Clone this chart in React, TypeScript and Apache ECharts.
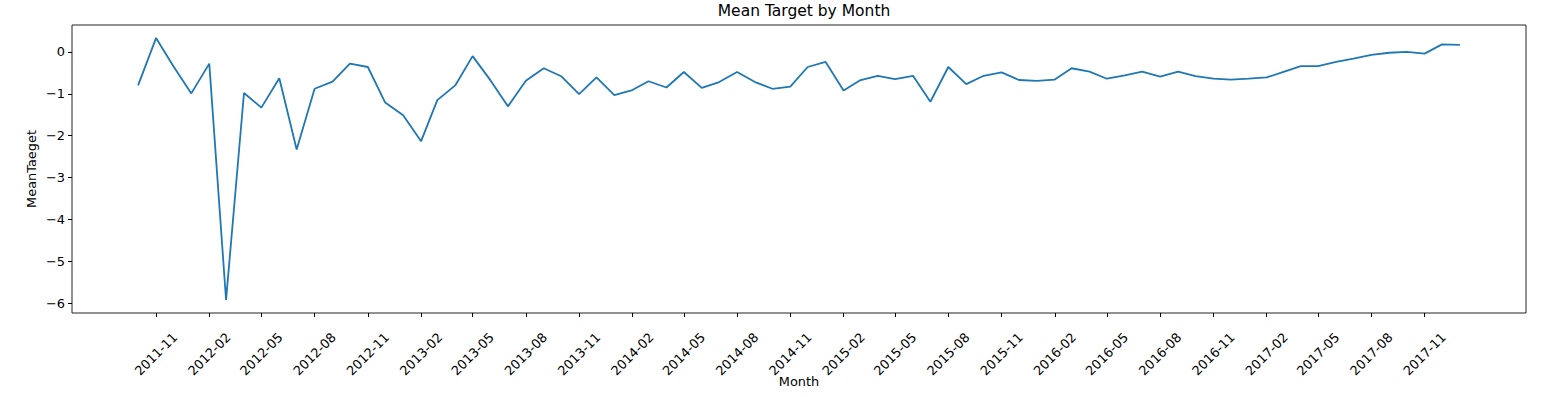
import React, { useEffect, useRef } from "react";
import * as echarts from "echarts";

const months: string[] = [
  "2011-10", "2011-11", "2011-12",
  "2012-01", "2012-02", "2012-03", "2012-04", "2012-05", "2012-06", "2012-07", "2012-08", "2012-09", "2012-10", "2012-11", "2012-12",
  "2013-01", "2013-02", "2013-03", "2013-04", "2013-05", "2013-06", "2013-07", "2013-08", "2013-09", "2013-10", "2013-11", "2013-12",
  "2014-01", "2014-02", "2014-03", "2014-04", "2014-05", "2014-06", "2014-07", "2014-08", "2014-09", "2014-10", "2014-11", "2014-12",
  "2015-01", "2015-02", "2015-03", "2015-04", "2015-05", "2015-06", "2015-07", "2015-08", "2015-09", "2015-10", "2015-11", "2015-12",
  "2016-01", "2016-02", "2016-03", "2016-04", "2016-05", "2016-06", "2016-07", "2016-08", "2016-09", "2016-10", "2016-11", "2016-12",
  "2017-01", "2017-02", "2017-03", "2017-04", "2017-05", "2017-06", "2017-07", "2017-08", "2017-09", "2017-10", "2017-11", "2017-12",
  "2018-01",
];

const meanTarget: number[] = [
  -0.8, 0.33, -0.34,
  -0.99, -0.28, -5.92, -0.98, -1.33, -0.63, -2.33, -0.88, -0.71, -0.28, -0.36, -1.21,
  -1.51, -2.13, -1.15, -0.8, -0.1, -0.68, -1.3, -0.69, -0.39, -0.58, -1.01, -0.61,
  -1.03, -0.91, -0.7, -0.85, -0.48, -0.86, -0.72, -0.48, -0.72, -0.88, -0.83, -0.36,
  -0.24, -0.92, -0.68, -0.57, -0.65, -0.57, -1.19, -0.36, -0.77, -0.57, -0.49, -0.67,
  -0.69, -0.66, -0.39, -0.47, -0.64, -0.56, -0.47, -0.59, -0.47, -0.58, -0.64, -0.66,
  -0.64, -0.61, -0.48, -0.34, -0.34, -0.24, -0.16, -0.07, -0.02, 0.0, -0.04, 0.18,
  0.17,
];

const xTickLabels: string[] = [
  "2011-11",
  "2012-02", "2012-05", "2012-08", "2012-11",
  "2013-02", "2013-05", "2013-08", "2013-11",
  "2014-02", "2014-05", "2014-08", "2014-11",
  "2015-02", "2015-05", "2015-08", "2015-11",
  "2016-02", "2016-05", "2016-08", "2016-11",
  "2017-02", "2017-05", "2017-08", "2017-11",
];

const yTicks: number[] = [-6, -5, -4, -3, -2, -1, 0];

const FONT = "DejaVu Sans";
const TICK_FS = 12.9;

function toTs(s: string): number {
  const [y, m] = s.split("-").map(Number);
  return Date.UTC(y, m - 1, 1);
}

function fmtMonth(v: number): string {
  const d = new Date(v);
  const mm = d.getUTCMonth() + 1;
  return d.getUTCFullYear() + "-" + (mm < 10 ? "0" + mm : String(mm));
}

function fmtNum(v: number): string {
  return v < 0 ? "\u2212" + Math.abs(v) : String(v);
}

export default function App() {
  const ref = useRef<HTMLDivElement>(null);

  useEffect(() => {
    if (!ref.current) return;
    const chart = echarts.init(ref.current, undefined, { renderer: "svg" });
    const data = months.map((m, i) => [toTs(m), meanTarget[i]]);
    const xTickValues = xTickLabels.map(toTs);

    chart.setOption({
      animation: false,
      backgroundColor: "#ffffff",
      title: {
        text: "Mean Target by Month",
        left: 799,
        textAlign: "center",
        top: -2,
        textStyle: { fontFamily: FONT, fontSize: 15.5, fontWeight: "normal", color: "#000" },
      },
      grid: {
        left: 72,
        right: 19,
        top: 25,
        bottom: 84,
        show: true,
        borderColor: "#222",
        borderWidth: 1,
        backgroundColor: "transparent",
        containLabel: false,
        outerBoundsMode: "none",
      },
      xAxis: {
        type: "value",
        min: (v: any) => v.min - (v.max - v.min) * 0.05,
        max: (v: any) => v.max + (v.max - v.min) * 0.05,
        name: "Month",
        nameLocation: "middle",
        nameGap: 62,
        nameMoveOverlap: false,
        nameTextStyle: { fontFamily: FONT, fontSize: TICK_FS, color: "#000" },
        axisLine: { show: false, onZero: false },
        splitLine: { show: false },
        axisTick: {
          show: true,
          inside: false,
          length: 4,
          lineStyle: { color: "#000" },
          customValues: xTickValues,
        },
        axisLabel: {
          customValues: xTickValues,
          formatter: (v: number) => fmtMonth(v),
          rotate: 45,
          align: "center",
          verticalAlign: "middle",
          margin: 41,
          fontFamily: FONT,
          fontSize: TICK_FS,
          color: "#000",
          hideOverlap: false,
        },
      },
      yAxis: {
        type: "value",
        min: (v: any) => v.min - (v.max - v.min) * 0.05,
        max: (v: any) => v.max + (v.max - v.min) * 0.05,
        name: "MeanTaeget",
        nameLocation: "middle",
        nameGap: 34,
        nameRotate: 90,
        nameMoveOverlap: false,
        nameTextStyle: { fontFamily: FONT, fontSize: TICK_FS, color: "#000" },
        axisLine: { show: false, onZero: false },
        splitLine: { show: false },
        axisTick: {
          show: true,
          inside: false,
          length: 4,
          lineStyle: { color: "#000" },
          customValues: yTicks,
        },
        axisLabel: {
          customValues: yTicks,
          formatter: (v: number) => fmtNum(v),
          margin: 7,
          fontFamily: FONT,
          fontSize: TICK_FS,
          color: "#000",
        },
      },
      series: [
        {
          type: "line",
          data,
          showSymbol: false,
          symbol: "none",
          lineStyle: { color: "#1f77b4", width: 1.8 },
          itemStyle: { color: "#1f77b4" },
        },
      ],
    });

    return () => chart.dispose();
  }, []);

  return (
    <div
      ref={ref}
      style={{ position: "fixed", left: 0, top: 0, width: 1545, height: 397 }}
    />
  );
}
